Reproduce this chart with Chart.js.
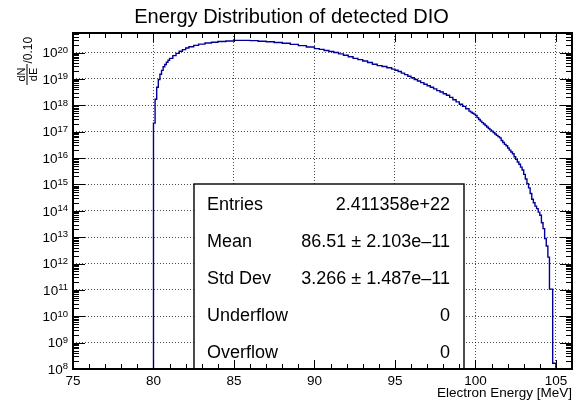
<!DOCTYPE html>
<html>
<head>
<meta charset="utf-8">
<title>Energy Distribution of detected DIO</title>
<script src="https://cdn.jsdelivr.net/npm/chart.js@4.4.0/dist/chart.umd.min.js"></script>
<style>
  html, body { margin: 0; padding: 0; background: #fff; }
  #wrap { width: 583px; height: 403px; }
</style>
</head>
<body>
<div id="wrap"><canvas id="dio" width="583" height="403"></canvas></div>
<script>
const FONT = '"Liberation Sans", Arial, Helvetica, sans-serif';

/* Histogram bins: low edge [MeV] and content (dN/dE per 0.10 MeV) */
const binLowEdges = [
  80.0, 80.1, 80.2, 80.3, 80.4, 80.5, 80.6, 80.7, 80.8, 80.9, 81.0,
  81.2, 81.4, 81.6, 81.8, 82.0,
  82.2, 82.5, 82.8, 83.2, 83.6, 84.0, 84.5,
  85.0, 85.5, 86.0, 86.5, 87.0, 87.5, 88.0, 88.5, 89.0, 89.5,
  90.0, 90.3, 90.6, 90.9, 91.2, 91.5, 91.8, 92.1, 92.4, 92.7,
  93.0, 93.3, 93.6, 93.9, 94.2, 94.5, 94.8,
  95.0, 95.2, 95.4, 95.6, 95.8, 96.0, 96.2, 96.4, 96.6, 96.8,
  97.0, 97.2, 97.4, 97.6, 97.8, 98.0, 98.2, 98.4, 98.6, 98.8,
  99.0, 99.2, 99.4, 99.6, 99.7, 99.8, 99.9,
  100.0, 100.1, 100.2, 100.3, 100.4, 100.5, 100.6, 100.7, 100.8, 100.9,
  101.0, 101.1, 101.2, 101.3, 101.4, 101.5, 101.6, 101.7, 101.8, 101.9,
  102.0, 102.1, 102.2, 102.3, 102.4, 102.5, 102.6, 102.7, 102.8, 102.9,
  103.0, 103.1, 103.2, 103.3, 103.4, 103.5, 103.6, 103.7, 103.8, 103.9,
  104.0, 104.1, 104.2, 104.3, 104.4, 104.5, 104.6, 104.7, 104.8, 104.9
];
const binContents = [
  2.1e17, 1.7e18, 4.8e18, 9.5e18, 1.5e19, 2.1e19, 2.9e19, 3.5e19, 4.3e19, 5.1e19, 6.0e19,
  7.6e19, 9.3e19, 1.12e20, 1.29e20, 1.48e20,
  1.66e20, 1.86e20, 2.09e20, 2.29e20, 2.45e20, 2.63e20, 2.75e20,
  2.88e20, 2.88e20, 2.82e20, 2.69e20, 2.57e20, 2.40e20, 2.24e20, 2.04e20, 1.82e20, 1.62e20,
  1.41e20, 1.32e20, 1.20e20, 1.10e20, 1.00e20, 8.9e19, 7.9e19, 6.9e19, 6.0e19, 5.4e19,
  4.8e19, 4.2e19, 3.6e19, 3.2e19, 2.95e19, 2.63e19, 2.34e19,
  2.14e19, 1.91e19, 1.66e19, 1.45e19, 1.26e19, 1.10e19, 9.5e18, 8.3e18, 7.2e18, 6.3e18,
  5.5e18, 4.8e18, 4.2e18, 3.6e18, 3.2e18, 2.75e18, 2.4e18, 2.0e18, 1.62e18, 1.35e18,
  1.10e18, 9.1e17, 7.4e17, 6.0e17, 5.5e17, 5.0e17, 4.6e17,
  4.1e17, 3.4e17, 2.9e17, 2.5e17, 2.2e17, 1.95e17, 1.7e17, 1.5e17, 1.32e17, 1.17e17,
  1.05e17, 9.3e16, 8.1e16, 7.2e16, 6.5e16, 5.8e16, 4.6e16, 3.9e16, 3.3e16, 2.9e16,
  2.4e16, 2.0e16, 1.7e16, 1.45e16, 1.12e16, 8.9e15, 7.1e15, 5.8e15, 4.5e15, 3.5e15,
  2.4e15, 1.6e15, 1.07e15, 7.4e14, 4.5e14, 2.75e14, 2.0e14, 1.5e14, 1.2e14, 8.9e13,
  6.8e13, 3.5e13, 2.1e13, 8.9e12, 4.6e12, 1.74e12, 1.07e11, 1.07e11, 1.66e8, 1.66e8
];
const histUpperEdge = 105.0;

const xRange = [75, 106];
const xTickLabels = [75, 80, 85, 90, 95, 100, 105];
const yRange = [1e8, 5.5e20];
const yDecades = [8, 9, 10, 11, 12, 13, 14, 15, 16, 17, 18, 19, 20];

const statNames = ['Entries', 'Mean', 'Std Dev', 'Underflow', 'Overflow'];
const statValues = ['2.411358e+22', '86.51 \u00b1 2.103e\u201311', '3.266 \u00b1 1.487e\u201311', '0', '0'];

const gridColor = 'rgba(0,0,0,0.7)';
const isDecade = v => v > 0 && Math.abs(Math.log10(v) - Math.round(Math.log10(v))) < 1e-6;

/* empty bins sit below the log axis, so the outline drops to the frame */
const emptyLevel = yRange[0] / 10;
const histPoints = [{ x: binLowEdges[0], y: emptyLevel }];
binLowEdges.forEach((e, i) => histPoints.push({ x: e, y: binContents[i] }));
histPoints.push({ x: histUpperEdge, y: emptyLevel });

/* ROOT style pad decorations: inner ticks, frame, 10^n labels, axis title, stats box */
const rootPad = {
  id: 'rootPad',
  afterDatasetsDraw(chart) {
    const ctx = chart.ctx;
    const box = { left: 194, top: 184, right: 464, bottom: 369 };
    ctx.save();
    ctx.fillStyle = '#fff';
    ctx.fillRect(box.left, box.top, box.right - box.left, box.bottom - box.top);
    ctx.strokeStyle = '#111';
    ctx.lineWidth = 1.5;
    ctx.strokeRect(box.left, box.top, box.right - box.left, box.bottom - box.top);
    ctx.fillStyle = '#000';
    ctx.font = '18px ' + FONT;
    ctx.textBaseline = 'alphabetic';
    statNames.forEach((name, i) => {
      const base = 210 + i * 36.9;
      ctx.textAlign = 'left';
      ctx.fillText(name, 207, base);
      ctx.textAlign = 'right';
      ctx.fillText(statValues[i], 450, base);
    });
    ctx.restore();
  },
  afterDraw(chart) {
    const { ctx, chartArea: a, scales: { x, y } } = chart;
    ctx.save();
    ctx.strokeStyle = '#000';
    ctx.lineWidth = 1;

    // x ticks every 1 MeV, long ones on the labelled values
    ctx.beginPath();
    for (let e = xRange[0]; e <= xRange[1]; e++) {
      const px = Math.round(x.getPixelForValue(e)) + 0.5;
      const len = xTickLabels.includes(e) ? 9 : 5;
      ctx.moveTo(px, a.bottom); ctx.lineTo(px, a.bottom - len);
      ctx.moveTo(px, a.top); ctx.lineTo(px, a.top + len);
    }
    // log y ticks: 1..9 x 10^n on both sides
    for (const n of yDecades.concat([yDecades[yDecades.length - 1] + 1])) {
      for (let k = 1; k <= 9; k++) {
        const v = k * Math.pow(10, n);
        if (v < yRange[0] || v > yRange[1]) continue;
        const py = Math.round(y.getPixelForValue(v)) + 0.5;
        const len = k === 1 ? 12 : 6;
        ctx.moveTo(a.left, py); ctx.lineTo(a.left + len, py);
        ctx.moveTo(a.right, py); ctx.lineTo(a.right - len, py);
      }
    }
    ctx.stroke();

    ctx.lineWidth = 2;
    ctx.strokeRect(a.left, a.top, a.right - a.left, a.bottom - a.top);

    // decade labels as 10 with a raised exponent
    ctx.fillStyle = '#000';
    ctx.textBaseline = 'alphabetic';
    ctx.textAlign = 'left';
    yDecades.forEach(n => {
      const py = y.getPixelForValue(Math.pow(10, n));
      ctx.font = '9.5px ' + FONT;
      const ew = ctx.measureText(String(n)).width;
      ctx.font = '13.5px ' + FONT;
      const bw = ctx.measureText('10').width;
      const right = a.left - 5;
      ctx.fillText('10', right - ew - bw, py + 4.8);
      ctx.font = '9.5px ' + FONT;
      ctx.fillText(String(n), right - ew, py + 0.3);
    });

    // y axis title: dN/dE over 0.10 MeV, rotated
    ctx.translate(27, 85);
    ctx.rotate(-Math.PI / 2);
    ctx.font = '11px ' + FONT;
    ctx.textAlign = 'center';
    ctx.fillText('dN', 10.5, -2);
    ctx.fillText('dE', 10.5, 10);
    ctx.fillRect(0, -0.5, 21, 1);
    ctx.textAlign = 'left';
    ctx.font = '12px ' + FONT;
    ctx.fillText('/0.10', 21.5, 5);
    ctx.restore();
  }
};

new Chart(document.getElementById('dio'), {
  type: 'line',
  data: {
    datasets: [{
      label: 'DIO',
      data: histPoints,
      stepped: true,
      borderColor: '#000099',
      borderWidth: 1.4,
      pointRadius: 0,
      fill: false,
      tension: 0
    }]
  },
  options: {
    responsive: false,
    animation: false,
    devicePixelRatio: 1,
    layout: { padding: 0 },
    plugins: {
      legend: { display: false },
      tooltip: { enabled: false },
      title: {
        display: true,
        text: 'Energy Distribution of detected DIO',
        color: '#000',
        font: { family: FONT, size: 20, weight: 'normal' },
        padding: { top: 5, bottom: 4 }
      }
    },
    scales: {
      x: {
        type: 'linear',
        min: xRange[0],
        max: xRange[1],
        afterFit: s => { s.height = 34; },
        grid: { color: gridColor, drawTicks: false },
        border: { display: false, dash: [1, 2] },
        ticks: {
          stepSize: 5,
          includeBounds: false,
          autoSkip: false,
          maxRotation: 0,
          padding: 4,
          color: '#000',
          font: { family: FONT, size: 13.5 }
        },
        title: {
          display: true,
          text: 'Electron Energy [MeV]',
          align: 'end',
          color: '#000',
          font: { family: FONT, size: 13.5 },
          padding: { top: 0, bottom: 2 }
        }
      },
      y: {
        type: 'logarithmic',
        min: yRange[0],
        max: yRange[1],
        afterFit: s => { s.width = 73; },
        grid: {
          color: c => (c.tick && isDecade(c.tick.value)) ? gridColor : 'rgba(0,0,0,0)',
          drawTicks: false
        },
        border: { display: false, dash: [1, 2] },
        ticks: { display: false }
      },
      yRight: {
        type: 'linear',
        position: 'right',
        afterFit: s => { s.width = 11; },
        grid: { display: false },
        border: { display: false },
        ticks: { display: false }
      }
    }
  },
  plugins: [rootPad]
});
</script>
</body>
</html>
